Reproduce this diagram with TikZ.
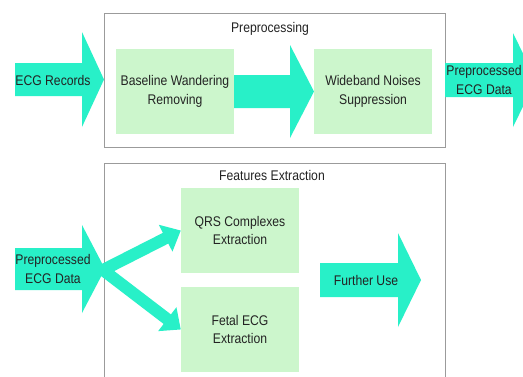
\documentclass[tikz,border=0pt]{standalone}
\usepackage{fontspec}
\setmainfont[FakeStretch=0.87]{Liberation Sans}
\usetikzlibrary{arrows.meta}
\definecolor{turq}{RGB}{40,240,200}
\definecolor{boxgreen}{RGB}{204,246,204}
\definecolor{framegray}{RGB}{155,155,155}
\definecolor{txt}{RGB}{35,35,35}
\begin{document}
\begin{tikzpicture}[x=1pt,y=-1pt,
  lbl/.style={font=\fontsize{14}{18.5}\selectfont, text=txt, align=center, inner sep=0pt},
  stage/.style={lbl, fill=boxgreen, minimum width=118pt, minimum height=85pt},
  container/.style={draw=framegray, line width=0.8pt},
  blockarrow/.style={fill=turq},
  splitarrow/.style={draw=turq, line width=12pt, -{Triangle[length=17pt,width=29pt]}}
]
\clip (0,0) rectangle (523,376);
\fill[white] (0,0) rectangle (523,376);

% containers
\draw[container] (104,13) rectangle (445,147);
\draw[container] (104,163) rectangle (445,400);
\node[lbl] (pretitle) at (270,29) {Preprocessing};
\node[lbl] (feattitle) at (272,175) {Features Extraction};

% block arrows
\fill[blockarrow] (15,63) -- (82,63) -- (82,32) -- (104,79.5) -- (82,127) -- (82,96) -- (15,96) -- cycle;
\fill[blockarrow] (234,75) -- (290,75) -- (290,45) -- (314,91.5) -- (290,138) -- (290,108) -- (234,108) -- cycle;
\fill[blockarrow] (445,63) -- (513,63) -- (513,33) -- (536,80) -- (513,127) -- (513,97) -- (445,97) -- cycle;
\fill[blockarrow] (15,248) -- (82,248) -- (82,225) -- (105,269) -- (82,313) -- (82,290) -- (15,290) -- cycle;
\fill[blockarrow] (320,263) -- (398,263) -- (398,233) -- (421,280) -- (398,327) -- (398,297) -- (320,297) -- cycle;

% stage boxes
\node[stage] (baseline) at (175,91.5) {Baseline Wandering\\Removing};
\node[stage] (wideband) at (373,91.5) {Wideband Noises\\Suppression};
\node[stage] (qrs) at (240,230.5) {QRS Complexes\\Extraction};
\node[stage] (fetal) at (240,329.5) {Fetal ECG\\Extraction};

% arrow labels
\node[lbl] (ecgrec) at (53,80) {ECG Records};
\node[lbl] (ppout) at (484,80) {Preprocessed\\ECG Data};
\node[lbl] (ppin) at (53,269) {Preprocessed\\ECG Data};
\node[lbl] (further) at (366,280) {Further Use};

% split connectors
\coordinate (split) at (103,270);
\draw[splitarrow] (split) -- (qrs.west);
\draw[splitarrow] (split) -- (fetal.west);
\end{tikzpicture}
\end{document}
